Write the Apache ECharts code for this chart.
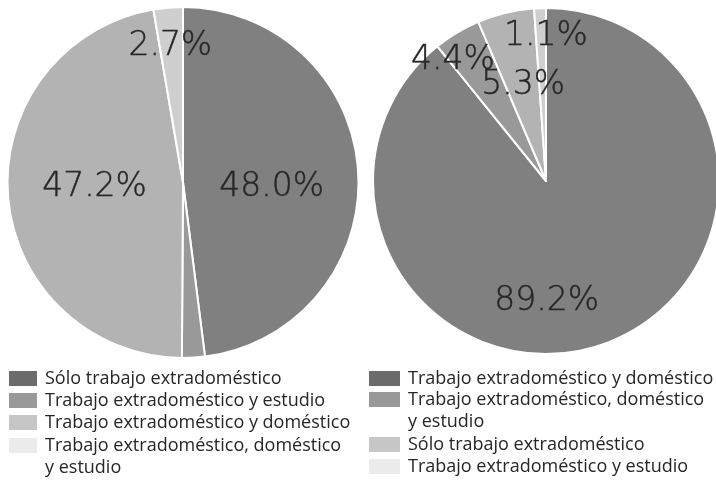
<!DOCTYPE html>
<html><head><meta charset="utf-8">
<script src="https://cdn.jsdelivr.net/npm/echarts@6/dist/echarts.min.js"></script>
<style>html,body{margin:0;padding:0;background:#fff}#c{width:716px;height:483px}</style>
</head><body><div id="c"></div>
<script>
const leftNames = ['Sólo trabajo extradoméstico', 'Trabajo extradoméstico y estudio', 'Trabajo extradoméstico y doméstico', 'Trabajo extradoméstico, doméstico y estudio'];
const leftValues = [48.0, 2.1, 47.2, 2.7];
const rightNames = ['Trabajo extradoméstico y doméstico', 'Trabajo extradoméstico, doméstico y estudio', 'Sólo trabajo extradoméstico', 'Trabajo extradoméstico y estudio'];
const rightValues = [89.2, 4.4, 5.3, 1.1];
const displayNames = {
  'Trabajo extradoméstico, doméstico y estudio': 'Trabajo extradoméstico, doméstico\ny estudio'
};

const LABEL_FONT = 'DejaVu Sans';
const LEGEND_FONT = 'Open Sans';
const pieColors = ['#808080', '#999999', '#b3b3b3', '#cfcfcf'];
const legendColors = ['#6b6b6b', '#999999', '#c6c6c6', '#ebebeb'];

const leftShow = [true, false, true, true];
const leftOff = [[-2, 11], [0, 0], [2, -2], [-5, -46]];
const rightShow = [true, true, true, true];
const rightOff = [[-29, 36], [-47, -44], [-2, -9], [3, -55]];

function pieData(names, values, show) {
  return names.map((n, i) => ({
    name: n, value: values[i],
    itemStyle: { color: pieColors[i] },
    label: { show: show[i] }
  }));
}
function pieSeries(center, radius, names, values, show, off) {
  return {
    type: 'pie', center: center, radius: radius, startAngle: 90, clockwise: true,
    avoidLabelOverlap: false, silent: true, animation: false,
    itemStyle: { borderColor: '#ffffff', borderWidth: 2 },
    label: { show: true, position: 'inside', fontFamily: LABEL_FONT, fontWeight: 200, fontSize: 33,
      color: '#262626', textBorderColor: '#262626', textBorderWidth: 0.4,
      formatter: p => p.value.toFixed(1) + '%' },
    labelLine: { show: false },
    labelLayout: p => ({ dx: off[p.dataIndex][0], dy: off[p.dataIndex][1] }),
    data: pieData(names, values, show)
  };
}
function legendItems(names, idxs) {
  return idxs.map(i => ({ name: names[i], itemStyle: { color: legendColors[i] } }));
}
function legend(left, top, names, idxs, iw, blankFirst) {
  return {
    orient: 'vertical', left: left, top: top, padding: 0, itemGap: -10,
    itemWidth: iw, itemHeight: 17, icon: 'rect', selectedMode: false,
    textStyle: { fontFamily: LEGEND_FONT, fontSize: 18, color: '#262626', lineHeight: 22, padding: [10, 0, 0, 2] },
    formatter: n => (blankFirst ? '\n' : '') + (displayNames[n] || n),
    data: legendItems(names, idxs)
  };
}

const chart = echarts.init(document.getElementById('c'), null, { renderer: 'canvas' });
chart.setOption({
  backgroundColor: '#ffffff',
  animation: false,
  legend: [
    legend(7, 362.5, leftNames, [0, 1, 2], 30, false),
    legend(7, 407.5, leftNames, [3], 30, true),
    legend(367, 362.5, rightNames, [0], 33, false),
    legend(367, 361.5, rightNames, [1], 33, true),
    legend(367, 428.5, rightNames, [2, 3], 33, false)
  ],
  series: [
    pieSeries([183, 182.5], 175.5, leftNames, leftValues, leftShow, leftOff),
    pieSeries([546, 181], 173, rightNames, rightValues, rightShow, rightOff)
  ]
});
</script>
</body></html>
